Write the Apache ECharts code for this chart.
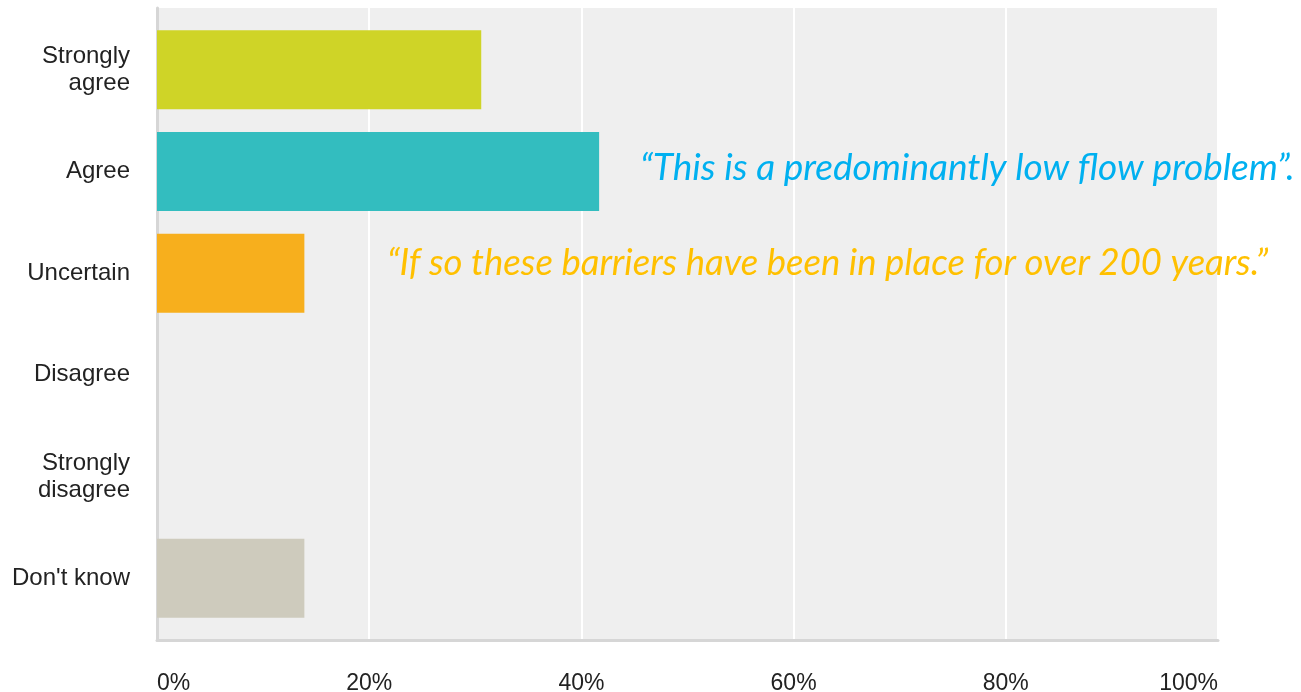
<!DOCTYPE html>
<html>
<head>
<meta charset="utf-8">
<script src="https://cdn.jsdelivr.net/npm/echarts@6/dist/echarts.min.js"></script>
<style>
  html, body { margin: 0; padding: 0; background: #fff; }
  #chart { width: 1301px; height: 692px; }
</style>
</head>
<body>
<div id="chart"></div>
<script>
// answers, top to bottom
const categories = ['Strongly\nagree', 'Agree', 'Uncertain', 'Disagree', 'Strongly\ndisagree', "Don't know"];
// percent of respondents
const percents = [30.56, 41.67, 13.89, 0, 0, 13.89];
const barColors = ['#cfd427', '#33bdbf', '#f7af1d', '#e2a3a3', '#a3c4e2', '#cecbbd'];
const xTicks = [0, 20, 40, 60, 80, 100];

const quoteBlue = '\u201CThis is a predominantly low flow problem\u201D.';
const quoteGold = '\u201CIf so these barriers have been in place for over 200 years.\u201D';

var myChart = echarts.init(document.getElementById('chart'));

const option = {
    animation: false,
    grid: [
        // bars
        { left: 157, top: 19, width: 1061, height: 610, outerBoundsMode: 'none' },
        // grey plot background with the vertical grid lines
        { left: 157, top: 8, width: 1061, height: 632, show: true, backgroundColor: '#efefef', borderWidth: 0, z: 0, outerBoundsMode: 'none' }
    ],
    xAxis: [{
        gridIndex: 0,
        type: 'value',
        min: 0,
        max: 100,
        show: false
    }, {
        gridIndex: 1,
        type: 'value',
        min: xTicks[0],
        max: xTicks[xTicks.length - 1],
        interval: xTicks[1] - xTicks[0],
        axisLine: { show: true, lineStyle: { color: '#d6d6d6', width: 3 } },
        axisTick: { show: false },
        splitLine: { show: true, lineStyle: { color: '#ffffff', width: 2 } },
        axisLabel: {
            formatter: '{value}%',
            margin: 32,
            color: '#222',
            fontSize: 23,
            fontFamily: 'Liberation Sans',
            alignMinLabel: 'left',
            alignMaxLabel: 'right'
        },
        z: 1
    }],
    yAxis: [{
        gridIndex: 0,
        type: 'category',
        inverse: true,
        data: categories,
        axisLine: { show: false },
        axisTick: { show: false },
        axisLabel: {
            margin: 27,
            color: '#222',
            fontSize: 24,
            lineHeight: 27,
            fontFamily: 'Liberation Sans'
        }
    }, {
        gridIndex: 1,
        type: 'value',
        axisLine: { show: true, lineStyle: { color: '#d6d6d6', width: 3 } },
        axisTick: { show: false },
        axisLabel: { show: false },
        splitLine: { show: false },
        z: 1
    }],
    series: [{
        type: 'bar',
        xAxisIndex: 0,
        yAxisIndex: 0,
        barWidth: 79,
        z: 3,
        data: percents.map((v, i) => ({
            value: v,
            itemStyle: { color: barColors[i] }
        }))
    }],
    graphic: [{
        type: 'text',
        x: 640,
        y: 168,
        z: 10,
        style: {
            text: quoteBlue,
            fill: '#00b0f0',
            font: 'italic 37px Lato',
            verticalAlign: 'middle'
        }
    }, {
        type: 'text',
        x: 387,
        y: 263,
        z: 10,
        style: {
            text: quoteGold,
            fill: '#ffc000',
            font: 'italic 36.5px Lato',
            verticalAlign: 'middle'
        }
    }]
};

myChart.setOption(option);
</script>
</body>
</html>
